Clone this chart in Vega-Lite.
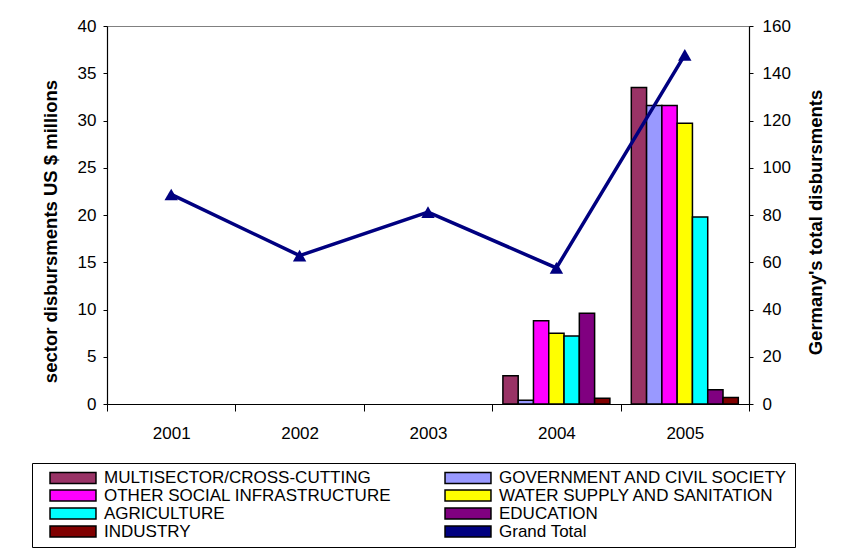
{
  "$schema": "https://vega.github.io/schema/vega-lite/v6.json",
  "width": 642,
  "height": 378,
  "autosize": "none",
  "padding": {"left": 107, "top": 26, "right": 94, "bottom": 146},
  "background": "white",
  "config": {
    "font": "Liberation Sans",
    "view": {"stroke": "#808080", "strokeWidth": 1},
    "axis": {
      "grid": false,
      "domainColor": "#000000",
      "tickColor": "#000000",
      "labelColor": "#000000",
      "titleColor": "#000000",
      "labelFont": "Liberation Sans",
      "titleFont": "Liberation Sans"
    }
  },
  "datasets": {
    "sectors": [
      {"year": "2004", "sector": "MULTISECTOR/CROSS-CUTTING", "value": 3.0},
      {"year": "2004", "sector": "GOVERNMENT AND CIVIL SOCIETY", "value": 0.4},
      {"year": "2004", "sector": "OTHER SOCIAL INFRASTRUCTURE", "value": 8.8},
      {"year": "2004", "sector": "WATER SUPPLY AND SANITATION", "value": 7.5},
      {"year": "2004", "sector": "AGRICULTURE", "value": 7.2},
      {"year": "2004", "sector": "EDUCATION", "value": 9.6},
      {"year": "2004", "sector": "INDUSTRY", "value": 0.6},
      {"year": "2005", "sector": "MULTISECTOR/CROSS-CUTTING", "value": 33.5},
      {"year": "2005", "sector": "GOVERNMENT AND CIVIL SOCIETY", "value": 31.6},
      {"year": "2005", "sector": "OTHER SOCIAL INFRASTRUCTURE", "value": 31.6},
      {"year": "2005", "sector": "WATER SUPPLY AND SANITATION", "value": 29.7},
      {"year": "2005", "sector": "AGRICULTURE", "value": 19.8},
      {"year": "2005", "sector": "EDUCATION", "value": 1.5},
      {"year": "2005", "sector": "INDUSTRY", "value": 0.7}
    ],
    "totals": [
      {"year": "2001", "total": 88.7},
      {"year": "2002", "total": 62.8},
      {"year": "2003", "total": 81.2},
      {"year": "2004", "total": 57.6},
      {"year": "2005", "total": 147.8}
    ]
  },
  "layer": [
    {
      "data": {"name": "sectors"},
      "mark": {"type": "bar", "stroke": "#000000", "strokeWidth": 1.5},
      "encoding": {
        "x": {
          "field": "year",
          "type": "ordinal",
          "scale": {
            "domain": ["2001", "2002", "2003", "2004", "2005"],
            "paddingInner": 0,
            "paddingOuter": 0
          },
          "axis": {
            "title": null,
            "labelAngle": 0,
            "tickBand": "extent",
            "tickSize": 7,
            "labelPadding": 14,
            "labelFontSize": 17,
            "domainWidth": 1.2
          }
        },
        "xOffset": {
          "field": "sector",
          "type": "nominal",
          "scale": {
            "domain": [
              "MULTISECTOR/CROSS-CUTTING",
              "GOVERNMENT AND CIVIL SOCIETY",
              "OTHER SOCIAL INFRASTRUCTURE",
              "WATER SUPPLY AND SANITATION",
              "AGRICULTURE",
              "EDUCATION",
              "INDUSTRY"
            ],
            "paddingInner": 0,
            "paddingOuter": 0.7
          }
        },
        "y": {
          "field": "value",
          "type": "quantitative",
          "scale": {"domain": [0, 40]},
          "axis": {
            "values": [0, 5, 10, 15, 20, 25, 30, 35, 40],
            "tickSize": 4,
            "labelPadding": 7,
            "labelFontSize": 17,
            "domainWidth": 1.2,
            "title": "sector disbursments US $ millions",
            "titleFontSize": 18.5,
            "titleFontWeight": "bold",
            "titleAngle": 270,
            "titleAlign": "center",
            "titleBaseline": "alphabetic",
            "titleX": -51,
            "titleY": 205
          }
        },
        "color": {
          "field": "sector",
          "type": "nominal",
          "scale": {
            "domain": [
              "MULTISECTOR/CROSS-CUTTING",
              "GOVERNMENT AND CIVIL SOCIETY",
              "OTHER SOCIAL INFRASTRUCTURE",
              "WATER SUPPLY AND SANITATION",
              "AGRICULTURE",
              "EDUCATION",
              "INDUSTRY",
              "Grand Total"
            ],
            "range": ["#993366", "#9999FF", "#FF00FF", "#FFFF00", "#00FFFF", "#800080", "#800000", "#000080"]
          },
          "legend": {
            "title": null,
            "orient": "none",
            "legendX": -75,
            "legendY": 437,
            "direction": "horizontal",
            "columns": 2,
            "columnPadding": 41,
            "rowPadding": -1.3,
            "padding": 6,
            "strokeColor": "#000000",
            "fillColor": "#FFFFFF",
            "symbolType": "M-3.83,-0.92H3.83V0.92H-3.83Z",
            "symbolSize": 144,
            "symbolStrokeWidth": 1.5,
            "symbolOffset": 26.5,
            "labelOffset": 22.5,
            "labelFontSize": 17,
            "labelFont": "Liberation Sans",
            "labelColor": "#000000",
            "labelLimit": 0,
            "encode": {
              "symbols": {
                "stroke": {"value": {"expr": "datum.value === 'Grand Total' ? '#000080' : '#000000'"}},
                "strokeWidth": {"value": 1.5},
                "opacity": {"value": 1},
                "fillOpacity": {"value": 1}
              }
            }
          }
        }
      }
    },
    {
      "data": {"name": "totals"},
      "mark": {
        "type": "line",
        "color": "#000080",
        "strokeWidth": 3.5,
        "point": {"shape": "triangle-up", "size": 180, "filled": true, "color": "#000080"}
      },
      "encoding": {
        "x": {"field": "year", "type": "ordinal"},
        "y": {
          "field": "total",
          "type": "quantitative",
          "scale": {"domain": [0, 160]},
          "axis": {
            "orient": "right",
            "values": [0, 20, 40, 60, 80, 100, 120, 140, 160],
            "tickSize": 4,
            "labelPadding": 9,
            "labelFontSize": 17,
            "domainWidth": 1.2,
            "title": "Germany's total disbursments",
            "titleFontSize": 18.5,
            "titleFontWeight": "bold",
            "titleAngle": 270,
            "titleAlign": "center",
            "titleBaseline": "alphabetic",
            "titleX": 72,
            "titleY": 196
          }
        }
      }
    }
  ],
  "resolve": {"scale": {"y": "independent"}}
}
